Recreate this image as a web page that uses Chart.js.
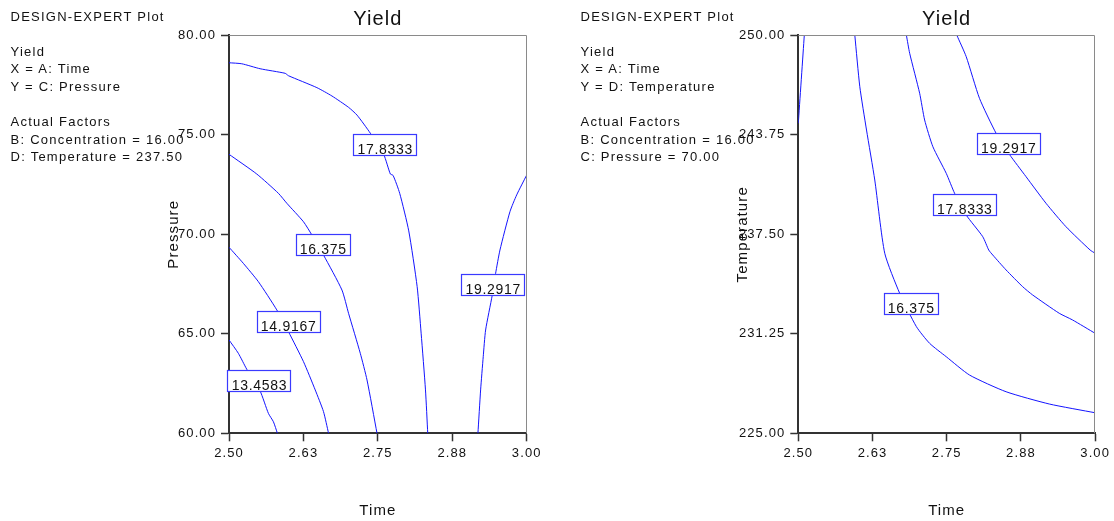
<!DOCTYPE html>
<html><head><meta charset="utf-8">
<script src="https://cdn.jsdelivr.net/npm/chart.js@4"></script>
<style>
html,body{margin:0;padding:0;background:#fff;}
#wrap{position:relative;width:1114px;height:521px;overflow:hidden;background:#fff;}
canvas{position:absolute;top:0;}
#c1{left:0;}
#c2{left:557px;}
.note{position:absolute;top:7.7px;font-size:13px;font-family:"Liberation Sans",Arial,sans-serif;letter-spacing:1.25px;line-height:17.6px;white-space:pre;color:#111;pointer-events:none;}
#n1{left:10.5px;}
#n2{left:580.5px;}
</style></head>
<body><div id="wrap">
<canvas id="c1" width="557" height="521" style="width:557px;height:521px"></canvas>
<canvas id="c2" width="557" height="521" style="width:557px;height:521px"></canvas>
<div class="note" id="n1"></div>
<div class="note" id="n2"></div>
</div>
<script>
const FONT = '"Liberation Sans", Arial, sans-serif';

// ---- tick values / labels ----
const timeTicks = [2.5, 2.625, 2.75, 2.875, 3.0];
const timeTickLabels = ['2.50', '2.63', '2.75', '2.88', '3.00'];
const pressureTicks = [60, 65, 70, 75, 80];
const pressureTickLabels = ['60.00', '65.00', '70.00', '75.00', '80.00'];
const tempTicks = [225, 231.25, 237.5, 243.75, 250];
const tempTickLabels = ['225.00', '231.25', '237.50', '243.75', '250.00'];

// ---- side notes ----
const notes1 = ['DESIGN-EXPERT Plot', '', 'Yield', 'X = A: Time', 'Y = C: Pressure', '', 'Actual Factors', 'B: Concentration = 16.00', 'D: Temperature = 237.50'];
const notes2 = ['DESIGN-EXPERT Plot', '', 'Yield', 'X = A: Time', 'Y = D: Temperature', '', 'Actual Factors', 'B: Concentration = 16.00', 'C: Pressure = 70.00'];

// ---- Plot 1: Time vs Pressure contours ----
const p1_c13_time = [2.5, 2.5157, 2.5298, 2.5522, 2.5662, 2.5746, 2.5813];
const p1_c13_pres = [64.69, 64.02, 63.22, 62.13, 61.00, 60.58, 60];
const p1_c14_time = [2.5, 2.5241, 2.5493, 2.5803, 2.5998, 2.6251, 2.6448, 2.6587, 2.6672];
const p1_c14_pres = [69.35, 68.54, 67.62, 66.20, 65.11, 63.60, 62.18, 61.09, 60];
const p1_c16_time = [2.5, 2.5466, 2.5830, 2.5971, 2.6251, 2.6391, 2.6587, 2.6897, 2.7008, 2.7205, 2.7318, 2.7486];
const p1_c16_pres = [74.02, 73.03, 72.06, 71.56, 70.63, 69.97, 68.96, 67.20, 66.03, 64.02, 62.68, 60];
const p1_c17_time = [2.5, 2.5214, 2.5522, 2.5943, 2.5998, 2.6476, 2.6729, 2.7008, 2.715, 2.7374, 2.7598, 2.7710, 2.7756, 2.7867, 2.8019, 2.8160, 2.8227, 2.8300, 2.8338];
const p1_c17_pres = [78.62, 78.57, 78.32, 78.09, 77.97, 77.37, 76.95, 76.38, 75.99, 75.08, 74.02, 73.03, 72.96, 72.06, 70.17, 67.37, 65.03, 62.18, 60];
const p1_c19_time = [3.0, 2.9832, 2.9719, 2.9551, 2.9478, 2.9422, 2.9310, 2.9270, 2.9226, 2.9181];
const p1_c19_pres = [72.98, 71.98, 71.14, 69.21, 68.04, 66.95, 65.19, 63.85, 62.18, 60];

const p1_labelText = ['17.8333', '16.375', '14.9167', '13.4583', '19.2917'];
const p1_labelTime = [2.7615, 2.6573, 2.5993, 2.5503, 2.943];
const p1_labelPres = [74.53, 69.49, 65.635, 62.655, 67.495];

// ---- Plot 2: Time vs Temperature contours ----
const p2_c14_time = [2.5, 2.5101];
const p2_c14_temp = [244.47, 250];
const p2_c16_time = [2.5952, 2.6036, 2.6149, 2.6288, 2.6456, 2.6708, 2.6989, 2.7212, 2.7492, 2.7884, 2.8500, 2.9227, 3.0];
const p2_c16_temp = [250, 246.77, 244.05, 240.91, 236.31, 233.79, 231.70, 230.65, 229.81, 228.66, 227.61, 226.84, 226.29];
const p2_c17_time = [2.6821, 2.6876, 2.7044, 2.7128, 2.7267, 2.7492, 2.7632, 2.7828, 2.8107, 2.8208, 2.8275, 2.8500, 2.8779, 2.8947, 2.9395, 2.9619, 3.0];
const p2_c17_temp = [250, 248.87, 246.36, 244.68, 243.0, 241.33, 240.08, 238.71, 237.35, 236.51, 236.20, 235.26, 234.21, 233.69, 232.54, 232.12, 231.28];
const p2_c19_time = [2.7671, 2.7828, 2.8052, 2.8332, 2.8556, 2.8836, 2.9172, 2.9508, 2.9916, 3.0];
const p2_c19_temp = [250, 248.66, 246.04, 243.84, 242.52, 241.12, 239.45, 237.98, 236.51, 236.31];

const p2_labelText = ['19.2917', '17.8333', '16.375'];
const p2_labelTime = [2.8537, 2.7797, 2.6893];
const p2_labelTemp = [243.18, 239.395, 233.15];

document.getElementById('n1').textContent = notes1.join('\n');
document.getElementById('n2').textContent = notes2.join('\n');

const LINE_COLOR = '#1414ff';
const BOX_COLOR = '#3a3aff';
const AXIS_COLOR = '#333';

function toPoints(xs, ys) { return xs.map((x, i) => ({x: x, y: ys[i]})); }

const spacingPlugin = {
  id: 'spacing',
  beforeUpdate(chart) { chart.ctx.letterSpacing = '1.1px'; },
  beforeDraw(chart) { chart.ctx.letterSpacing = '1.1px'; }
};

const framePlugin = {
  id: 'frame',
  afterDraw(chart) {
    const {ctx, chartArea: a} = chart;
    ctx.save();
    ctx.strokeStyle = '#8a8a8a';
    ctx.lineWidth = 1;
    const t = Math.round(a.top) + 0.5, r = Math.round(a.right) - 0.5;
    ctx.beginPath();
    ctx.moveTo(a.left, t); ctx.lineTo(r, t); ctx.lineTo(r, a.bottom);
    ctx.stroke();
    ctx.restore();
  }
};

const labelPlugin = {
  id: 'contourLabels',
  afterDatasetsDraw(chart, args, opts) {
    const {ctx} = chart;
    const xs = chart.scales.x, ys = chart.scales.y;
    ctx.save();
    ctx.font = '14px ' + FONT;
    ctx.letterSpacing = '0.7px';
    for (let i = 0; i < opts.texts.length; i++) {
      const t = opts.texts[i];
      const px = xs.getPixelForValue(opts.xs[i]);
      const py = ys.getPixelForValue(opts.ys[i]);
      const w = ctx.measureText(t).width;
      const bw = Math.round(w + 7), bh = 21;
      const bx = Math.round(px - bw / 2) + 0.5, by = Math.round(py - bh / 2) + 0.5;
      ctx.fillStyle = '#fff';
      ctx.fillRect(bx, by, bw, bh);
      ctx.strokeStyle = BOX_COLOR;
      ctx.lineWidth = 1.2;
      ctx.strokeRect(bx, by, bw, bh);
      ctx.fillStyle = '#111';
      ctx.textAlign = 'center';
      ctx.textBaseline = 'alphabetic';
      ctx.fillText(t, px + 0.5, by + bh - 2);
    }
    ctx.restore();
  }
};

function makeChart(canvasId, cfg) {
  const datasets = cfg.lines.map(l => ({
    data: toPoints(l[0], l[1]),
    showLine: true,
    pointRadius: 0,
    borderColor: LINE_COLOR,
    borderWidth: 1,
    tension: 0.2,
    fill: false
  }));
  return new Chart(document.getElementById(canvasId), {
    type: 'scatter',
    data: {datasets: datasets},
    plugins: [spacingPlugin, labelPlugin, framePlugin],
    options: {
      responsive: false,
      animation: false,
      layout: {padding: cfg.padding},
      plugins: {
        legend: {display: false},
        tooltip: {enabled: false},
        title: {display: true, text: 'Yield', fullSize: false, color: '#111',
          font: {family: FONT, size: 20, weight: 'normal'}, padding: {top: 7, bottom: 4}},
        contourLabels: {texts: cfg.labelText, xs: cfg.labelX, ys: cfg.labelY}
      },
      scales: {
        x: {
          type: 'linear', min: 2.5, max: 3.0,
          afterBuildTicks: s => { s.ticks = timeTicks.map(v => ({value: v})); },
          afterFit: s => { s.height = 87.7; },
          ticks: {autoSkip: false, maxRotation: 0, padding: 4, color: '#111',
            font: {family: FONT, size: 13},
            callback: (v, i) => timeTickLabels[i]},
          grid: {display: true, drawOnChartArea: false, drawTicks: true, tickLength: 8, tickColor: AXIS_COLOR, tickWidth: 1.5},
          border: {display: true, color: AXIS_COLOR, width: 2},
          title: {display: true, text: 'Time', color: '#111', font: {family: FONT, size: 15}, padding: {top: 0, bottom: 1}}
        },
        y: {
          type: 'linear', min: cfg.yMin, max: cfg.yMax,
          afterBuildTicks: s => { s.ticks = cfg.yTicks.map(v => ({value: v})); },
          afterFit: s => { s.width = cfg.yWidth; },
          ticks: {autoSkip: false, padding: 5, color: '#111',
            font: {family: FONT, size: 13},
            callback: (v, i) => cfg.yTickLabels[i]},
          grid: {display: true, drawOnChartArea: false, drawTicks: true, tickLength: 8, tickColor: AXIS_COLOR, tickWidth: 1.5},
          border: {display: true, color: AXIS_COLOR, width: 2},
          title: {display: true, text: cfg.yTitle, color: '#111', font: {family: FONT, size: 15}, padding: {top: 0, bottom: 0}}
        }
      }
    }
  });
}

makeChart('c1', {
  lines: [[p1_c13_time, p1_c13_pres], [p1_c14_time, p1_c14_pres], [p1_c16_time, p1_c16_pres], [p1_c17_time, p1_c17_pres], [p1_c19_time, p1_c19_pres]],
  labelText: p1_labelText, labelX: p1_labelTime, labelY: p1_labelPres,
  yMin: 60, yMax: 80, yTicks: pressureTicks, yTickLabels: pressureTickLabels,
  yTitle: 'Pressure', yWidth: 64.5,
  padding: {left: 164.5, right: 30.3, top: 0.3, bottom: 0}
});

makeChart('c2', {
  lines: [[p2_c14_time, p2_c14_temp], [p2_c16_time, p2_c16_temp], [p2_c17_time, p2_c17_temp], [p2_c19_time, p2_c19_temp]],
  labelText: p2_labelText, labelX: p2_labelTime, labelY: p2_labelTemp,
  yMin: 225, yMax: 250, yTicks: tempTicks, yTickLabels: tempTickLabels,
  yTitle: 'Temperature', yWidth: 64.3,
  padding: {left: 177, right: 18, top: 0.3, bottom: 0}
});
</script>
</body></html>
